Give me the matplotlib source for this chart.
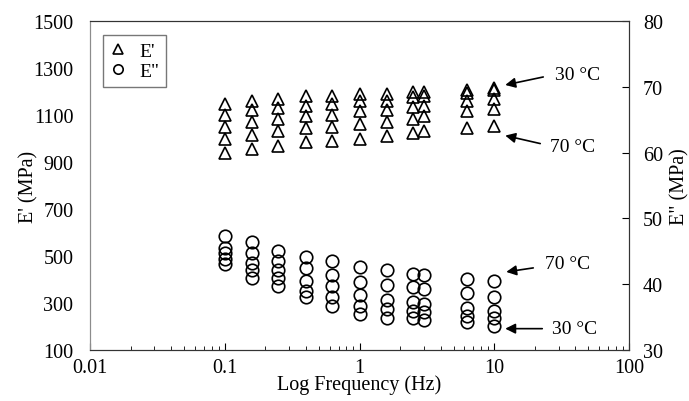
import matplotlib.pyplot as plt
import matplotlib.transforms as mtransforms
from matplotlib.lines import Line2D
from matplotlib.ticker import FuncFormatter

plt.rcParams['font.family'] = ['Liberation Serif', 'DejaVu Serif']
plt.rcParams['font.size'] = 14.5

#### data
freq = [0.1, 0.16, 0.25, 0.4, 0.63, 1.0, 1.6, 2.5, 3.0, 6.3, 10.0]

# E' (MPa), storage modulus, one list per temperature
storage_30 = [1145, 1160, 1170, 1180, 1180, 1190, 1190, 1200, 1200, 1205, 1215]
storage_40 = [1100, 1120, 1130, 1140, 1145, 1160, 1160, 1175, 1180, 1195, 1205]
storage_50 = [1050, 1070, 1085, 1095, 1100, 1115, 1120, 1135, 1140, 1160, 1170]
storage_60 = [1000, 1015, 1030, 1045, 1050, 1060, 1070, 1085, 1095, 1115, 1125]
storage_70 = [940, 955, 970, 985, 990, 1000, 1010, 1025, 1030, 1045, 1055]

# E'' (MPa), loss modulus
loss_70 = [47.4, 46.4, 45.1, 44.1, 43.5, 42.6, 42.1, 41.6, 41.4, 40.8, 40.5]
loss_60 = [45.5, 44.7, 43.6, 42.4, 41.4, 40.3, 39.9, 39.5, 39.3, 38.6, 38.1]
loss_50 = [44.7, 43.2, 42.2, 40.5, 39.7, 38.3, 37.6, 37.3, 37.0, 36.4, 35.9]
loss_40 = [43.9, 42.1, 41.0, 38.9, 38.0, 36.7, 36.2, 36.0, 35.7, 35.1, 34.8]
loss_30 = [43.1, 40.9, 39.8, 38.1, 36.7, 35.5, 34.9, 34.8, 34.6, 34.3, 33.7]

storage = [storage_30, storage_40, storage_50, storage_60, storage_70]
loss = [loss_30, loss_40, loss_50, loss_60, loss_70]

fig = plt.figure(figsize=(6.89, 4.02), dpi=100)
ax = fig.add_axes([90/689, 1 - 351/402, 539/689, 329/402])
ax2 = ax.twinx()

mk = dict(ls='none', mfc='none', mec='black', mew=1.2, ms=9)
for vals in storage:
    ax.plot(freq, vals, marker='^', **mk)
for vals in loss:
    ax2.plot(freq, vals, marker='o', **mk)

ax.set_xscale('log')
ax.set_xlim(0.01, 100)
ax.set_ylim(100, 1500)
ax.set_yticks(range(100, 1501, 200))
ax2.set_ylim(30, 80)
ax2.set_yticks(range(30, 81, 10))
ax.xaxis.set_major_formatter(FuncFormatter(lambda v, p: '%g' % v))

ax.tick_params(axis='x', which='major', direction='in', length=5, pad=6)
ax.tick_params(axis='x', which='minor', direction='in', length=3)
ax.tick_params(axis='y', length=0, pad=12)
ax2.tick_params(axis='y', direction='in', length=5, pad=10)

ax.set_xlabel('Log Frequency (Hz)', labelpad=-2)
ax.set_ylabel("E' (MPa)", labelpad=-4)
ax2.set_ylabel('E" (MPa)', labelpad=5)

for a in (ax, ax2):
    a.spines['left'].set_color('#8c8c8c')
    for s in ('top', 'right', 'bottom'):
        a.spines[s].set_color('#333333')

# legend
handles = [Line2D([], [], marker='^', **mk), Line2D([], [], marker='o', **mk)]
leg = ax.legend(handles, ["E'", 'E"'], loc='upper left', bbox_to_anchor=(0.024, 0.957),
                borderaxespad=0, fancybox=False, edgecolor='#555555', markerscale=0.75,
                fontsize=14, handlelength=0.8, handletextpad=0.7, labelspacing=0.15,
                borderpad=0.35)
leg.get_frame().set_linewidth(1.0)

# arrows pointing at the 30 and 70 degC series at 10 Hz
arrow = dict(arrowstyle='-|>', color='black', lw=1.2, mutation_scale=15, shrinkA=0, shrinkB=0)


def label(a, val, head, tail, txt_off, txt):
    # head: arrow tip offset from the marker, tail: offset from the tip (pixels)
    tr = mtransforms.offset_copy(a.transData, fig=fig, x=head[0], y=head[1], units='dots')
    a.annotate('', xy=(freq[-1], val), xycoords=tr, xytext=tail,
               textcoords='offset pixels', arrowprops=arrow)
    a.annotate(txt, xy=(freq[-1], val), xytext=txt_off, textcoords='offset pixels',
               ha='left', va='center', fontsize=14)


label(ax, storage_30[-1], (11, 3), (38, 8), (61, 13), '30 °C')
label(ax, storage_70[-1], (11, -10), (35, -8), (56, -21), '70 °C')
label(ax2, loss_70[-1], (12, 9), (27, 4), (51, 17), '70 °C')
label(ax2, loss_30[-1], (11, -3), (37, 0), (58, -3), '30 °C')

plt.savefig('out.png', dpi=100)
